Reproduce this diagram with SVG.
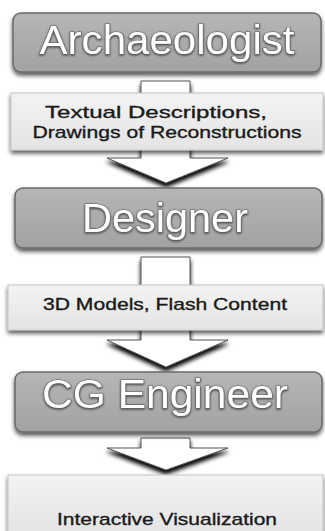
<svg xmlns="http://www.w3.org/2000/svg" width="325" height="531" viewBox="0 0 325 531">
<defs>
<linearGradient id="gDark" x1="0" y1="0" x2="0" y2="1">
<stop offset="0" stop-color="#b6b6b6"/>
<stop offset="1" stop-color="#a2a2a2"/>
</linearGradient>
<linearGradient id="gLight" x1="0" y1="0" x2="0" y2="1">
<stop offset="0" stop-color="#f3f3f3"/>
<stop offset="1" stop-color="#e4e4e4"/>
</linearGradient>
<filter id="shadow" x="-10%" y="-20%" width="120%" height="160%">
<feDropShadow dx="0" dy="3" stdDeviation="2" flood-color="#000" flood-opacity="0.65"/>
</filter>
<filter id="ashadow" x="-20%" y="-20%" width="140%" height="170%">
<feDropShadow dx="0" dy="4" stdDeviation="2" flood-color="#000" flood-opacity="1"/>
</filter>
<filter id="tshadow" x="-10%" y="-20%" width="120%" height="150%">
<feDropShadow dx="0" dy="1" stdDeviation="1" flood-color="#333" flood-opacity="0.9"/>
</filter>
</defs>
<style>
.dark{fill:url(#gDark);stroke:#6a6a6a;stroke-width:1.5;filter:url(#shadow)}
.light{fill:url(#gLight);stroke:#c4c4c4;stroke-width:1;filter:url(#shadow)}
.arrow{fill:#ffffff;stroke:#555;stroke-width:1;filter:url(#ashadow)}
.big{font-family:"Liberation Sans",Arial,sans-serif;font-size:40px;fill:#ffffff;stroke:#6a6a6a;stroke-width:1.2;paint-order:stroke;text-anchor:middle;filter:url(#tshadow)}
.small{font-family:"Liberation Sans",Arial,sans-serif;font-size:17px;fill:#1a1a1a;stroke:#1a1a1a;stroke-width:0.35;text-anchor:middle}
</style>
<rect width="325" height="531" fill="#ffffff"/>
<g id="connectors">
<path class="arrow" d="M141,81 H190 V158 H228 L166,183 L107,158 H141 Z"/>
<path class="arrow" d="M141,257 H190 V340 H228 L166,367 L107,340 H141 Z"/>
<path class="arrow" d="M141,438 H190 V448 H228 L166,470 L107,448 H141 Z"/>
</g>
<g id="archaeologist">
<rect class="dark" x="13" y="13" width="308" height="59" rx="8"/>
<text class="big" x="167" y="54" textLength="255" lengthAdjust="spacingAndGlyphs">Archaeologist</text>
</g>
<g id="textual">
<rect class="light" x="11" y="93" width="312" height="57"/>
<text class="small" x="156" y="118" textLength="222" lengthAdjust="spacingAndGlyphs">Textual Descriptions,</text>
<text class="small" x="167" y="138" textLength="269" lengthAdjust="spacingAndGlyphs">Drawings of Reconstructions</text>
</g>
<g id="designer">
<rect class="dark" x="15" y="188" width="307" height="60" rx="8"/>
<text class="big" x="165" y="232" textLength="166" lengthAdjust="spacingAndGlyphs">Designer</text>
</g>
<g id="models">
<rect class="light" x="8" y="285" width="315" height="45"/>
<text class="small" x="165" y="310" textLength="244" lengthAdjust="spacingAndGlyphs">3D Models, Flash Content</text>
</g>
<g id="cgengineer">
<rect class="dark" x="15" y="372" width="307" height="60" rx="8"/>
<text class="big" x="165" y="408" textLength="246" lengthAdjust="spacingAndGlyphs">CG Engineer</text>
</g>
<g id="visualization">
<rect class="light" x="8" y="475" width="315" height="60"/>
<text class="small" x="167" y="525" textLength="220" lengthAdjust="spacingAndGlyphs">Interactive Visualization</text>
</g>
</svg>
